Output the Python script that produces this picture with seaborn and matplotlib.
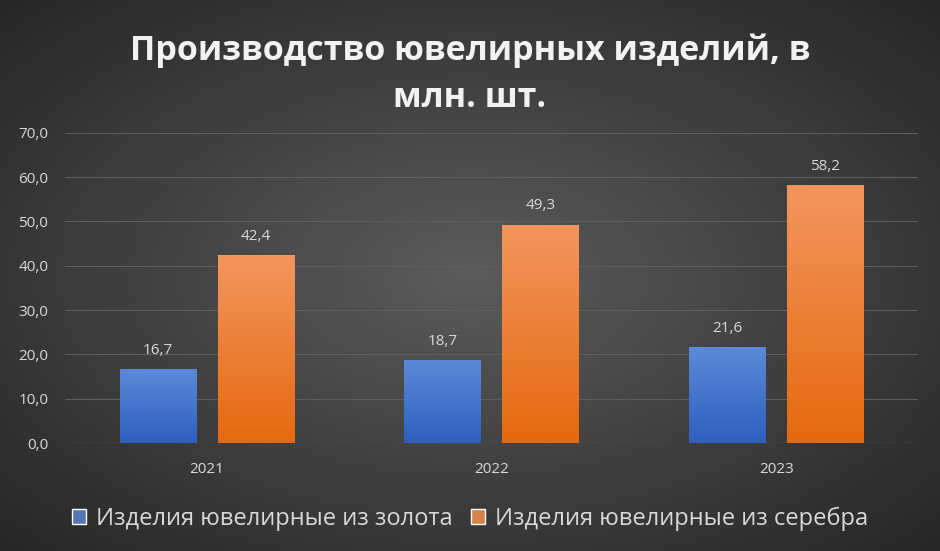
import numpy as np
import pandas as pd
import matplotlib
matplotlib.use("Agg")
import matplotlib.pyplot as plt
import seaborn as sns
from matplotlib.colors import LinearSegmentedColormap

years = ["2021", "2022", "2023"]
gold = [16.7, 18.7, 21.6]
silver = [42.4, 49.3, 58.2]
series_names = ["Изделия ювелирные из золота", "Изделия ювелирные из серебра"]

df = pd.DataFrame({
    "year": years * 2,
    "value": gold + silver,
    "series": [series_names[0]] * 3 + [series_names[1]] * 3,
})

sns.set_theme(style="dark")
plt.rcParams["font.family"] = ["Open Sans", "DejaVu Sans"]

fig = plt.figure(figsize=(9.4, 5.51), dpi=100)

# radial background
bg = fig.add_axes([0, 0, 1, 1], zorder=-10)
yy, xx = np.mgrid[-1:1:300j, -1:1:500j]
r = np.sqrt(xx ** 2 + yy ** 2) / np.sqrt(2)
bg_cmap = LinearSegmentedColormap.from_list("bg", ["#5b5b5b", "#262626"])
bg.imshow(r, cmap=bg_cmap, aspect="auto", extent=[0, 1, 0, 1])
bg.axis("off")

ax = fig.add_axes([0.069, 0.196, 0.908, 0.563])
ax.patch.set_alpha(0)
sns.barplot(data=df, x="year", y="value", hue="series", width=0.69, gap=0.22,
            palette=["#4472c4", "#ed7d31"], ax=ax, legend=True)

grads = [["#2f5fbf", "#5b8ad8"], ["#e5690f", "#f3965e"]]
for cont, g in zip(ax.containers, grads):
    cmap = LinearSegmentedColormap.from_list("b", g)
    for bar in cont:
        x0, y0 = bar.get_x(), bar.get_y()
        w, h = bar.get_width(), bar.get_height()
        im = ax.imshow(np.linspace(0, 1, 100).reshape(-1, 1), cmap=cmap, origin="lower",
                       extent=[x0, x0 + w, y0, y0 + h], aspect="auto", zorder=2)
        im.set_clip_path(bar)
        bar.set_alpha(0)
    ax.bar_label(cont, labels=[f"{v.get_height():.1f}".replace(".", ",") for v in cont],
                 padding=8, color="#d9d9d9", fontsize=11)

ax.set_xlim(-0.5, 2.5)
ax.set_ylim(0, 70)
ax.set_yticks(np.arange(0, 71, 10))
ax.set_yticklabels([f"{v:.1f}".replace(".", ",") for v in np.arange(0, 71, 10)])
ax.grid(axis="y", color="#5e5e5e", linewidth=0.8)
ax.grid(axis="x", visible=False)
ax.set_axisbelow(True)
for s in ax.spines.values():
    s.set_visible(False)
ax.axhline(0, color="#7a7a7a", linewidth=0.8)
ax.tick_params(colors="#d9d9d9", labelsize=11, length=0)
ax.tick_params(axis="y", pad=12)
ax.tick_params(axis="x", pad=14)
ax.set_xlabel("")
ax.set_ylabel("")

handles, labels = ax.get_legend_handles_labels()
ax.get_legend().remove()
leg = fig.legend(handles, labels, loc="center", bbox_to_anchor=(0.5, 0.058), ncol=2,
                 frameon=False, fontsize=17, handlelength=0.6, handleheight=0.6,
                 columnspacing=0.8, handletextpad=0.4)
for t in leg.get_texts():
    t.set_color("#d9d9d9")

fig.text(0.5, 0.865, "Производство ювелирных изделий, в\nмлн. шт.", ha="center", va="center",
         fontsize=24.5, fontweight="bold", color="#f2f2f2", linespacing=1.5)

fig.savefig("out.png", dpi=100)
